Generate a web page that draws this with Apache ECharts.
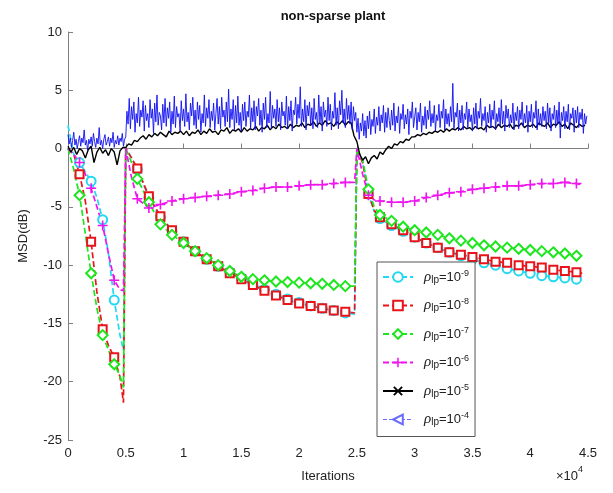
<!DOCTYPE html>
<html><head><meta charset="utf-8">
<script src="https://cdn.jsdelivr.net/npm/echarts@6/dist/echarts.min.js"></script>
<style>html,body{margin:0;padding:0;background:#fff}#c{width:613px;height:493px}</style>
</head><body><div id="c"></div>
<script>
// ---------------- data ----------------
const X_TICKS = ['0','0.5','1','1.5','2','2.5','3','3.5','4','4.5'];
const SEGMENT_STARTS = [0, 5000, 25000];
const GRID_X = [
  0,500,1000,1500,2000,2500,3000,3500,4000,4500,4800,
  5000,
  5500,6000,7000,8000,9000,10000,11000,12000,13000,14000,15000,16000,17000,18000,19000,20000,21000,22000,23000,24000,24800,
  25000,
  25500,26000,26500,27000,28000,29000,30000,31000,32000,33000,34000,35000,36000,37000,38000,39000,40000,41000,42000,43000,44000,44500
];
const CYAN_1E9 = [
  2.0,-0.5,-1.2,-2.0,-2.8,-4.2,-6.1,-9.0,-13.0,-16.0,-17.3,
  0,
  -0.8,-1.8,-4.2,-5.9,-7.1,-8.0,-8.8,-9.5,-10.1,-10.6,-11.1,-11.6,-12.1,-12.5,-12.9,-13.2,-13.5,-13.7,-13.9,-14.1,-14.2,
  0,
  -1.2,-3.9,-5.4,-6.0,-6.6,-7.1,-7.6,-8.1,-8.5,-8.9,-9.2,-9.5,-9.8,-10.0,-10.3,-10.5,-10.7,-10.9,-11.0,-11.1,-11.2,-11.3
];
const RED_1E8 = [
  0,-0.5,-2.2,-4.5,-8.0,-12.3,-15.5,-16.9,-17.9,-19.6,-21.8,
  0,
  -0.8,-1.7,-4.1,-5.8,-7.0,-8.0,-8.8,-9.5,-10.1,-10.7,-11.2,-11.7,-12.2,-12.6,-13.0,-13.3,-13.5,-13.7,-13.9,-14.0,-14.1,
  0,
  -1.2,-3.9,-5.3,-5.9,-6.5,-7.0,-7.6,-8.1,-8.5,-8.9,-9.1,-9.3,-9.5,-9.7,-9.8,-10.0,-10.1,-10.2,-10.4,-10.5,-10.6,-10.7
];
const GREEN_1E7 = [
  0,-1.8,-4.0,-7.3,-10.7,-13.7,-16.0,-17.3,-18.5,-19.5,-20.5,
  0,
  -1.2,-2.6,-4.6,-6.5,-7.4,-8.1,-8.8,-9.4,-10.0,-10.5,-11.0,-11.2,-11.3,-11.4,-11.45,-11.5,-11.55,-11.6,-11.7,-11.8,-11.8,
  0,
  -1.0,-3.5,-5.0,-5.7,-6.2,-6.7,-7.0,-7.2,-7.4,-7.7,-7.9,-8.1,-8.3,-8.4,-8.5,-8.6,-8.7,-8.8,-8.9,-9.0,-9.2,-9.3
];
const MAGENTA_1E6 = [
  0,-0.5,-1.2,-2.2,-3.4,-5.0,-6.6,-9.0,-11.3,-12.1,-12.2,
  0,
  -2.5,-4.3,-5.1,-4.8,-4.5,-4.3,-4.2,-4.1,-4.0,-3.9,-3.7,-3.6,-3.4,-3.3,-3.3,-3.2,-3.1,-3.1,-3.0,-2.9,-2.9,
  0,
  -2.2,-4.0,-4.4,-4.5,-4.6,-4.6,-4.5,-4.2,-4.0,-3.8,-3.7,-3.5,-3.4,-3.3,-3.2,-3.2,-3.1,-3.0,-3.0,-2.9,-3.0,-3.1
];
// black: one reading every 250 iterations
const BLACK_STEP = 250;
const BLACK_1E5 = [
  0.2,-0.3,0.1,-0.5,0.0,-0.2,-0.8,-0.1,0.2,-1.2,-0.3,0.1,-0.4,-0.1,-0.6,0.0,-0.3,-1.4,-0.2,0.1,
  0.1,0.4,0.3,0.7,0.6,0.9,1.1,0.8,1.2,1.0,1.3,1.1,1.4,1.2,1.0,1.5,1.2,1.4,1.3,1.5,
  1.2,1.5,1.1,1.4,1.3,1.6,1.2,1.5,1.3,1.7,1.4,1.5,1.2,1.6,1.5,1.8,1.3,1.6,1.5,1.7,
  1.4,1.8,1.5,1.7,1.6,1.9,1.5,1.8,1.7,2.0,1.6,1.9,1.7,2.1,1.8,1.9,1.7,2.1,1.8,2.0,
  1.9,2.2,1.8,2.1,2.0,2.3,1.9,2.2,2.0,2.4,2.1,2.2,1.9,2.3,2.1,2.4,2.0,2.3,2.2,1.1,
  0.6,-0.5,-1.0,-0.7,-1.3,-0.8,-0.6,-0.9,-0.3,-0.5,-0.1,0.2,0.0,0.4,0.3,0.6,0.5,0.8,0.7,1.0,
  1.0,1.2,1.1,1.3,1.2,1.4,1.3,1.5,1.4,1.6,1.4,1.7,1.5,1.7,1.6,1.8,1.6,1.9,1.7,1.8,
  1.6,1.9,1.7,1.8,1.6,2.0,1.8,1.9,1.7,2.1,1.8,2.0,1.9,2.1,1.7,2.0,1.9,2.2,1.8,2.0,
  1.9,2.1,1.8,2.2,2.0,1.9,2.2,1.8,2.1,2.0,2.3,1.9,2.1,1.7,2.2,2.0,1.8,2.1,1.9,2.0
];
// blue: one reading every 100 iterations
const BLUE_STEP = 100;
const BLUE_1E4 = [
  1.2,0.4,0.9,0.1,0.7,1.4,0.3,0.8,0.0,0.6, 1.1,0.2,0.9,0.5,1.6,0.3,0.7,-0.2,0.8,0.4,
  1.0,0.2,1.3,0.6,0.1,0.9,0.4,1.8,0.3,0.7, 0.0,0.8,1.2,0.3,0.6,1.0,0.2,0.9,0.5,1.4,
  0.1,0.7,0.4,1.1,0.3,0.9,0.6,1.3,0.2,0.8,
  1.0,3.2,2.1,4.3,1.7,3.6,2.5,4.0,1.4,3.0, 2.2,4.4,1.9,3.3,2.7,4.1,1.5,3.7,2.4,3.0,
  1.8,4.2,2.6,3.4,1.3,3.9,2.3,4.6,2.0,3.1, 2.8,1.6,3.8,2.2,4.3,1.9,3.5,2.6,4.0,1.4,
  3.2,2.1,4.5,1.8,3.6,2.7,3.0,1.5,4.1,2.4, 3.4,1.9,4.7,2.3,3.1,1.6,3.9,2.8,4.4,2.0,
  3.3,1.7,4.0,2.5,3.7,1.4,3.0,2.2,4.6,1.9, 3.5,2.6,4.2,1.8,3.2,2.4,3.9,1.6,3.0,4.3,
  2.1,3.6,1.7,4.4,2.7,3.3,1.9,4.0,2.3,5.1, 1.8,3.4,2.5,4.2,1.6,3.7,2.2,4.5,2.0,3.1,
  1.5,3.8,2.4,4.0,1.9,3.2,2.7,4.6,1.7,3.5, 2.3,4.1,1.6,3.6,2.8,4.3,2.0,3.3,1.4,3.9,
  2.5,4.4,1.8,3.0,2.2,4.9,1.7,3.7,2.6,3.4, 1.9,4.2,2.3,3.5,1.6,4.0,2.8,3.2,2.0,4.5,
  1.7,3.6,2.4,4.1,1.5,3.3,2.9,4.4,2.1,3.8, 2.6,5.3,1.9,3.4,2.3,4.2,1.6,3.7,2.8,4.0,
  2.0,3.5,1.7,4.3,2.5,3.1,1.8,4.6,2.2,3.6, 1.5,4.0,2.7,3.3,1.9,4.4,2.4,3.8,1.6,3.2,
  2.6,4.8,2.0,3.5,1.7,4.1,2.9,5.0,2.2,3.4, 1.8,4.3,2.5,3.7,2.1,4.0,1.6,3.6,2.4,3.1,
  1.4,2.6,0.8,2.2,1.5,3.0,1.1,2.4,0.9,2.8, 1.7,3.2,1.2,2.5,1.9,3.4,1.3,2.7,2.0,3.6,
  1.5,2.9,2.2,3.7,1.4,3.1,1.8,3.5,2.4,1.6, 3.3,2.0,3.9,1.5,2.8,2.2,3.6,1.3,3.0,2.5,
  3.8,1.7,2.9,2.1,3.4,1.2,3.2,2.6,4.0,1.8, 2.7,3.5,1.6,3.1,2.3,3.9,1.4,2.8,2.0,3.6,
  1.7,3.3,2.5,4.1,1.9,3.0,2.2,3.7,1.5,2.9, 2.4,3.8,1.8,3.2,2.6,4.2,1.6,3.4,2.1,3.0,
  1.9,3.6,2.3,5.6,1.7,3.1,2.7,3.9,1.5,3.3, 2.2,3.7,1.6,3.0,2.5,4.0,1.8,3.4,2.3,2.9,
  1.5,3.5,2.1,3.9,1.7,3.2,2.6,4.3,1.9,3.0, 2.4,3.6,1.4,3.1,2.2,3.8,1.8,3.3,2.5,4.1,
  1.6,3.0,2.3,3.5,1.9,4.2,2.1,3.2,1.5,3.7, 2.6,3.4,1.8,2.9,2.2,3.9,1.6,3.1,2.4,3.6,
  1.7,3.3,2.5,4.0,1.9,3.0,2.2,3.7,1.4,3.2, 2.3,3.8,1.8,3.1,2.6,4.1,1.6,3.4,2.0,3.0,
  1.9,3.6,2.4,3.2,1.7,3.9,2.2,3.5,1.5,3.0, 2.5,3.7,1.8,3.3,2.1,4.0,0.9,3.1,2.4,3.6,
  1.7,3.2,2.3,3.8,1.6,3.0,2.6,3.5,1.4,3.3, 2.2,3.6,1.8,3.1,2.5,3.4,1.3,3.0,2.1,2.8
];
const LEGEND_EXPONENTS = ['-9','-8','-7','-6','-5','-4'];

// ---------------- chart ----------------
const FONT = '"Liberation Sans", Arial, sans-serif';
const PLUS = 'path://M4.2,0 H5.8 V4.2 H10 V5.8 H5.8 V10 H4.2 V5.8 H0 V4.2 H4.2 Z';
const CROSS = 'path://M1.4,0 L5,3.6 L8.6,0 L10,1.4 L6.4,5 L10,8.6 L8.6,10 L5,6.4 L1.4,10 L0,8.6 L3.6,5 L0,1.4 Z';
const names = LEGEND_EXPONENTS.map(e => 'ρlp=10^' + e);
const BLUE = '#0e0ef2';

function markedSeries(idx, values, color, symbol, size) {
  return {
    name: names[idx], type: 'line', animation: false,
    data: GRID_X.map((x, i) => {
      const mark = x % 1000 === 0 && SEGMENT_STARTS.indexOf(x) < 0;
      return mark ? { value: [x, values[i]] } : { value: [x, values[i]], symbol: 'none' };
    }),
    symbol: symbol, symbolSize: size, showSymbol: true, showAllSymbol: true,
    lineStyle: { color: color, width: 1.7, type: [6, 3] },
    itemStyle: { color: color, borderWidth: 1.3 },
    emphasis: { disabled: true }
  };
}
function noisySeries(idx, values, step, symbol, opts) {
  return Object.assign({
    name: names[idx], type: 'line', animation: false,
    data: values.map((v, i) => [i * step, v]),
    symbol: symbol, showSymbol: false,
    emphasis: { disabled: true }
  }, opts);
}

const chart = echarts.init(document.getElementById('c'), null, { renderer: 'canvas' });
chart.setOption({
  backgroundColor: '#fff',
  textStyle: { fontFamily: FONT },
  title: {
    text: 'non-sparse plant', left: 328, top: 5, textAlign: 'center',
    textStyle: { fontFamily: FONT, fontSize: 13, fontWeight: 'bold', color: '#111' }
  },
  grid: { left: 68, right: 25, top: 32, bottom: 53, containLabel: false },
  xAxis: {
    type: 'value', min: 0, max: 45000, interval: 5000,
    name: 'Iterations', nameLocation: 'middle', nameGap: 30,
    nameTextStyle: { fontFamily: FONT, fontSize: 13, color: '#222' },
    axisLine: { show: true, lineStyle: { color: '#808080', width: 1 } },
    axisTick: { show: true, inside: true, length: 5, lineStyle: { color: '#808080' } },
    axisLabel: { fontFamily: FONT, fontSize: 13, color: '#222', margin: 7,
      formatter: v => X_TICKS[Math.round(v / 5000)] },
    splitLine: { show: false }
  },
  yAxis: {
    type: 'value', min: -25, max: 10, interval: 5,
    name: 'MSD(dB)', nameLocation: 'middle', nameGap: 38, nameRotate: 90,
    nameTextStyle: { fontFamily: FONT, fontSize: 13, color: '#222' },
    axisLine: { show: true, lineStyle: { color: '#808080', width: 1 } },
    axisTick: { show: true, inside: true, length: 5, lineStyle: { color: '#808080' } },
    axisLabel: { fontFamily: FONT, fontSize: 13, color: '#222', margin: 6 },
    splitLine: { show: false }
  },
  legend: {
    orient: 'vertical', left: 377, top: 262,
    itemWidth: 30, itemHeight: 12, itemGap: 12.5,
    padding: [7, 6, 9, 5],
    borderColor: '#555', borderWidth: 1, backgroundColor: '#fff',
    selectedMode: false,
    data: names.map((n, i) => i === 5
      ? { name: n, lineStyle: { type: [4, 2], width: 1, color: '#6a6aff' }, itemStyle: { color: '#6a6aff' } }
      : { name: n }),
    formatter: name => '{r|ρ}{s|lp}{m|=10}{p|' + name.split('^')[1] + '}',
    textStyle: {
      color: '#222',
      rich: {
        r: { fontFamily: '"Liberation Serif", serif', fontStyle: 'italic', fontSize: 15, lineHeight: 16, padding: [0, 0, 0, 6], color: '#222' },
        s: { fontFamily: FONT, fontSize: 10, lineHeight: 9, verticalAlign: 'bottom', color: '#222' },
        m: { fontFamily: FONT, fontSize: 13, lineHeight: 16, color: '#222' },
        p: { fontFamily: FONT, fontSize: 9, lineHeight: 9, verticalAlign: 'top', color: '#222' }
      }
    }
  },
  graphic: [{
    type: 'text', left: 556, top: 465,
    style: {
      text: '{a|×10}{b|4}',
      rich: {
        a: { fontFamily: FONT, fontSize: 13, lineHeight: 18, verticalAlign: 'bottom', fill: '#222' },
        b: { fontFamily: FONT, fontSize: 9, lineHeight: 9, verticalAlign: 'top', fill: '#222' }
      }
    }
  }],
  series: [
    markedSeries(0, CYAN_1E9, '#22d8f0', 'emptyCircle', 9),
    markedSeries(1, RED_1E8, '#e8141c', 'emptyRect', 8),
    markedSeries(2, GREEN_1E7, '#1ee61e', 'emptyDiamond', 10),
    markedSeries(3, MAGENTA_1E6, '#f014f0', PLUS, 10),
    noisySeries(4, BLACK_1E5, BLACK_STEP, CROSS, {
      lineStyle: { color: '#000', width: 1.4 }, itemStyle: { color: '#000' }
    }),
    noisySeries(5, BLUE_1E4, BLUE_STEP, 'emptyTriangle', {
      symbolRotate: 90,
      lineStyle: { color: BLUE, width: 0.9 }, itemStyle: { color: BLUE }
    })
  ]
});
</script></body></html>
